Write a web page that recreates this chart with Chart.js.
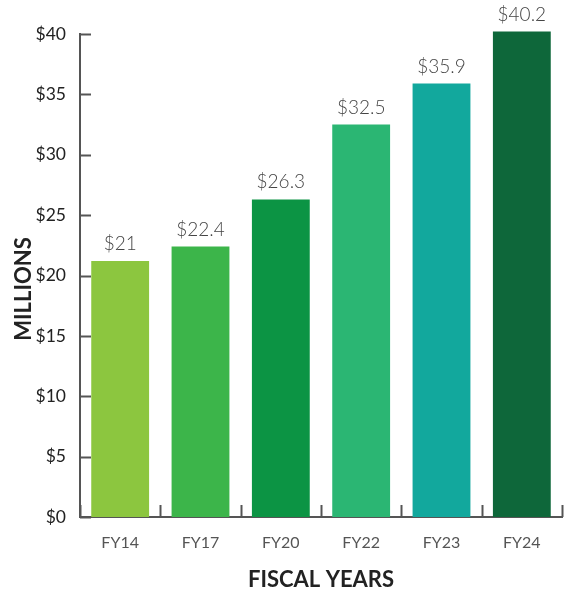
<!DOCTYPE html>
<html>
<head>
<meta charset="utf-8">
<script src="https://cdn.jsdelivr.net/npm/chart.js@4.4.1/dist/chart.umd.min.js"></script>
<style>
	html, body { margin: 0; padding: 0; background: #fff; }
	#wrap { width: 569px; height: 596px; position: relative; }
</style>
</head>
<body>
<div id="wrap"><canvas id="chart"></canvas></div>
<script>
	// データ
	const years = ['FY14', 'FY17', 'FY20', 'FY22', 'FY23', 'FY24'];
	const revenue = [21.2, 22.4, 26.3, 32.5, 35.9, 40.2]; // 百万ドル
	const revenueLabels = ['$21', '$22.4', '$26.3', '$32.5', '$35.9', '$40.2'];
	const barColors = ['#8cc63f', '#3cb54a', '#0c9444', '#2bb673', '#12a89d', '#0e673a'];
	const yTicks = [0, 5, 10, 15, 20, 25, 30, 35, 40];

	const FONT = 'Lato, "Open Sans", sans-serif';

	// 内向きの目盛り線、データラベル、縦軸タイトル
	const decorPlugin = {
		id: 'decor',
		afterDatasetsDraw(chart) {
			const ctx = chart.ctx;
			const x = chart.scales.x;
			const y = chart.scales.y;
			const area = chart.chartArea;
			ctx.save();
			ctx.strokeStyle = '#555';
			ctx.lineWidth = 2;
			// y軸の目盛り（右向き）
			yTicks.forEach(function(v) {
				const py = Math.round(y.getPixelForValue(v)) + 0.5;
				ctx.beginPath();
				ctx.moveTo(area.left, py);
				ctx.lineTo(area.left + 11, py);
				ctx.stroke();
			});
			// x軸の目盛り（上向き、カテゴリ境界）
			for (let i = 0; i <= years.length; i++) {
				const px = Math.round(x.getPixelForValue(i - 0.5)) + 0.5;
				ctx.beginPath();
				ctx.moveTo(px, area.bottom);
				ctx.lineTo(px, area.bottom - 12);
				ctx.stroke();
			}
			// 値ラベル
			const meta = chart.getDatasetMeta(0);
			ctx.fillStyle = '#444';
			ctx.font = '300 19px ' + FONT;
			ctx.textAlign = 'center';
			ctx.textBaseline = 'alphabetic';
			meta.data.forEach(function(bar, i) {
				ctx.fillText(revenueLabels[i], bar.x, bar.y - 11);
			});
			// 縦軸タイトル
			ctx.fillStyle = '#222';
			ctx.font = 'bold 22px ' + FONT;
			ctx.translate(24, 289);
			ctx.rotate(-Math.PI / 2);
			ctx.textBaseline = 'middle';
			ctx.fillText('MILLIONS', 0, 0);
			ctx.restore();
		}
	};

	new Chart(document.getElementById('chart'), {
		type: 'bar',
		data: {
			labels: years,
			datasets: [{
				data: revenue,
				backgroundColor: barColors,
				barPercentage: 0.72,
				categoryPercentage: 1.0,
				borderWidth: 0,
				clip: false
			}]
		},
		options: {
			responsive: true,
			maintainAspectRatio: false,
			animation: false,
			layout: { padding: { top: 34, right: 7, bottom: 0, left: 0 } },
			plugins: {
				legend: { display: false },
				tooltip: { enabled: false }
			},
			scales: {
				x: {
					offset: true,
					grid: { display: false },
					border: { display: true, color: '#555', width: 2 },
					ticks: {
						color: '#555',
						padding: 8,
						font: { family: FONT, size: 16 }
					},
					title: {
						display: true,
						text: 'FISCAL YEARS',
						color: '#222',
						font: { family: FONT, size: 22, weight: 'bold' },
						padding: { top: 0, bottom: 3 }
					},
					afterFit: function(scale) { scale.height = 79; }
				},
				y: {
					min: 0,
					max: 40,
					grid: { display: false },
					border: { display: true, color: '#555', width: 2 },
					ticks: {
						stepSize: 5,
						color: '#222',
						padding: 6,
						font: { family: FONT, size: 17.5 },
						callback: function(v) { return '$' + v; }
					},
					afterFit: function(scale) { scale.width = 80; }
				}
			}
		},
		plugins: [decorPlugin]
	});
</script>
</body>
</html>
